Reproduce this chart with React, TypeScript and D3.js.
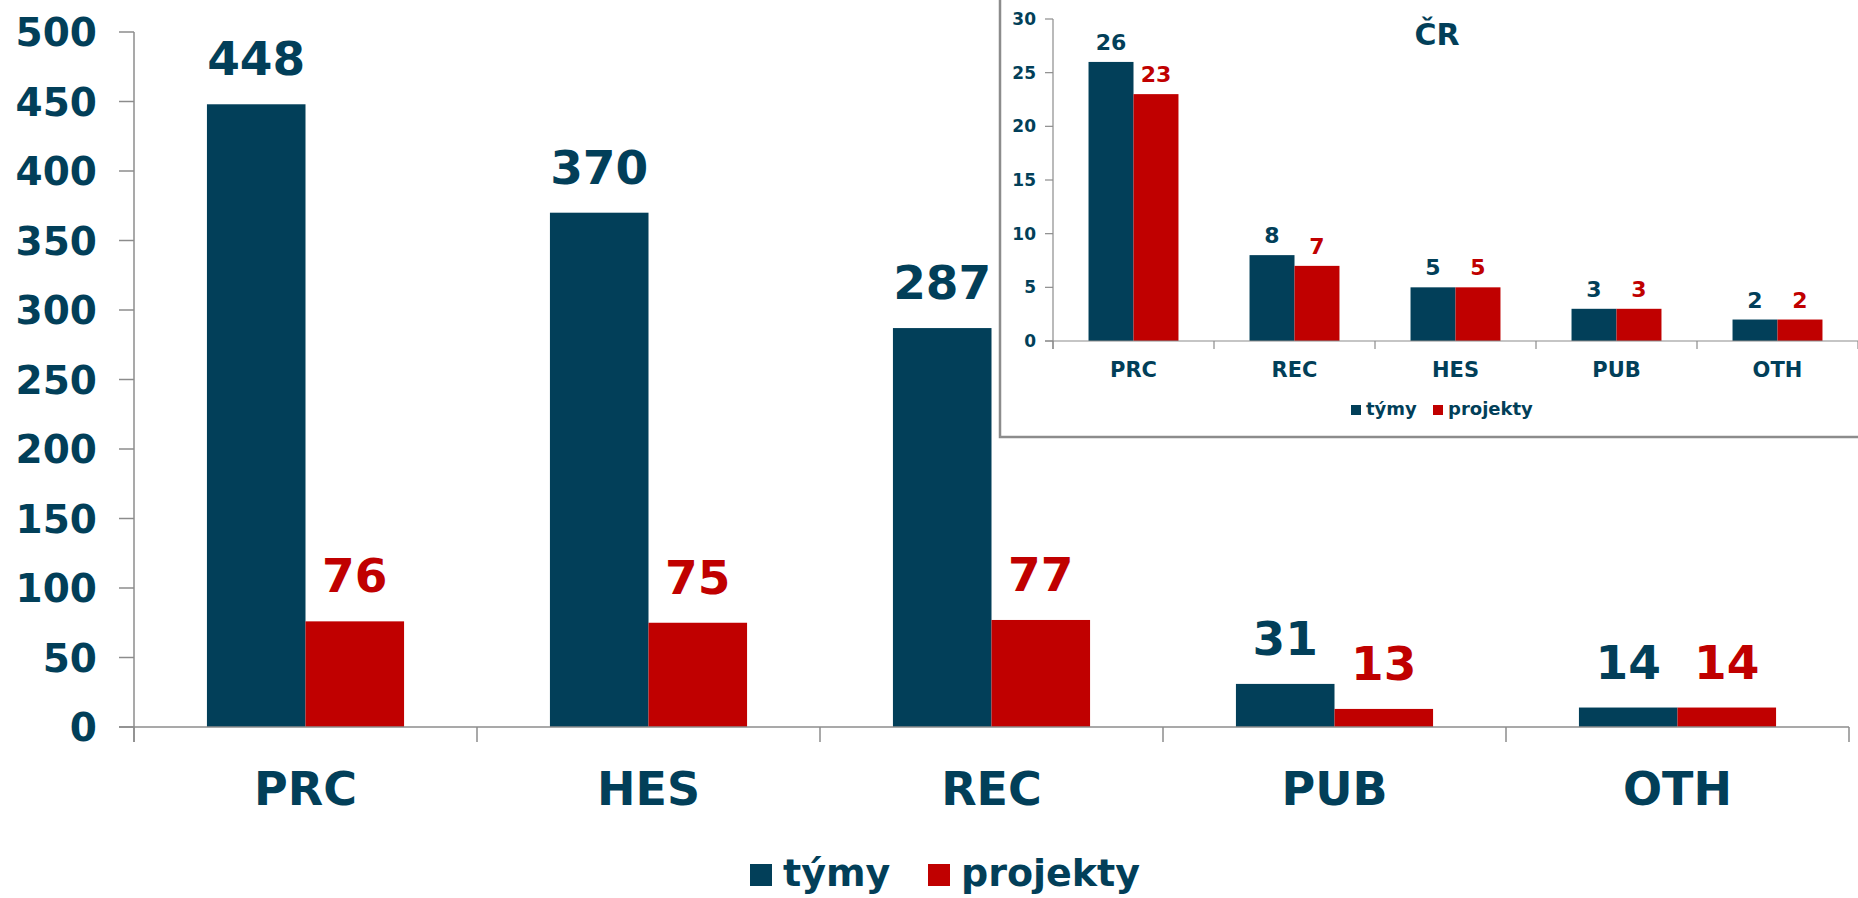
import React from "react";
import * as d3 from "d3";

const categories = ["PRC", "HES", "REC", "PUB", "OTH"];
const tymy = [448, 370, 287, 31, 14];
const projekty = [76, 75, 77, 13, 14];
const mainTicks = [0, 50, 100, 150, 200, 250, 300, 350, 400, 450, 500];

const insetCategories = ["PRC", "REC", "HES", "PUB", "OTH"];
const insetTymy = [26, 8, 5, 3, 2];
const insetProjekty = [23, 7, 5, 3, 2];
const insetTicks = [0, 5, 10, 15, 20, 25, 30];

const seriesNames = ["týmy", "projekty"];
const TEAL = "#023F59";
const RED = "#C00000";
const AXIS = "#8C8C8C";
const FONT = "'DejaVu Sans', Verdana, sans-serif";

type PanelProps = {
  cats: string[];
  a: number[];
  b: number[];
  ticks: number[];
  x0: number;
  x1: number;
  yTop: number;
  yBottom: number;
  max: number;
  outerPad: number;
  tickFont: number;
  tickLabelX: number;
  tickLen: number;
  catFont: number;
  catBaseline: number;
  valFont: number;
  valGap: number;
  axisWidth: number;
};

function Panel(p: PanelProps) {
  const x = d3.scaleBand<string>().domain(p.cats).range([p.x0, p.x1]).padding(0);
  const xs = d3
    .scaleBand<string>()
    .domain(seriesNames)
    .range([0, x.bandwidth()])
    .paddingInner(0)
    .paddingOuter(p.outerPad);
  const y = d3.scaleLinear().domain([0, p.max]).range([p.yBottom, p.yTop]);
  const boundaries = [...p.cats.map((c) => x(c) as number), p.x1];
  const series = [
    { name: seriesNames[0], vals: p.a, color: TEAL },
    { name: seriesNames[1], vals: p.b, color: RED },
  ];
  return (
    <g>
      {series.map((s) =>
        p.cats.map((c, i) => (
          <rect
            key={s.name + c}
            x={(x(c) as number) + (xs(s.name) as number)}
            y={y(s.vals[i])}
            width={xs.bandwidth()}
            height={y(0) - y(s.vals[i])}
            fill={s.color}
          />
        ))
      )}
      {/* y axis */}
      <line x1={p.x0} x2={p.x0} y1={y(p.max)} y2={y(0) + p.tickLen} stroke={AXIS} strokeWidth={p.axisWidth} />
      {p.ticks.map((t) => (
        <g key={t}>
          <line x1={p.x0 - p.tickLen} x2={p.x0} y1={y(t)} y2={y(t)} stroke={AXIS} strokeWidth={p.axisWidth} />
          <text
            x={p.tickLabelX}
            y={y(t)}
            dy="0.36em"
            textAnchor="end"
            fontFamily={FONT}
            fontWeight="bold"
            fontSize={p.tickFont}
            fill={TEAL}
          >
            {t}
          </text>
        </g>
      ))}
      {/* x axis */}
      <line x1={p.x0 - p.tickLen} x2={p.x1} y1={y(0)} y2={y(0)} stroke={AXIS} strokeWidth={p.axisWidth} />
      {boundaries.map((bx, i) => (
        <line key={i} x1={bx} x2={bx} y1={y(0)} y2={y(0) + p.tickLen} stroke={AXIS} strokeWidth={p.axisWidth} />
      ))}
      {p.cats.map((c) => (
        <text
          key={c}
          x={(x(c) as number) + x.bandwidth() / 2}
          y={p.catBaseline}
          textAnchor="middle"
          fontFamily={FONT}
          fontWeight="bold"
          fontSize={p.catFont}
          fill={TEAL}
        >
          {c}
        </text>
      ))}
      {series.map((s) =>
        p.cats.map((c, i) => (
          <text
            key={"l" + s.name + c}
            x={(x(c) as number) + (xs(s.name) as number) + xs.bandwidth() / 2}
            y={y(s.vals[i]) - p.valGap}
            textAnchor="middle"
            fontFamily={FONT}
            fontWeight="bold"
            fontSize={p.valFont}
            fill={s.color}
          >
            {s.vals[i]}
          </text>
        ))
      )}
    </g>
  );
}

function Legend({ x, y, size, font, gap, spacing }: { x: number; y: number; size: number; font: number; gap: number; spacing: number }) {
  const colors = [TEAL, RED];
  let cx = x;
  const items = seriesNames.map((n, i) => {
    const el = (
      <g key={n}>
        <rect x={cx} y={y - size} width={size} height={size} fill={colors[i]} />
        <text x={cx + size + gap} y={y} fontFamily={FONT} fontWeight="bold" fontSize={font} fill={TEAL}>
          {n}
        </text>
      </g>
    );
    cx += spacing;
    return el;
  });
  return <g>{items}</g>;
}

export default function App() {
  return (
    <svg
      width={1858}
      height={898}
      style={{ position: "absolute", left: 0, top: 0, background: "#fff" }}
    >
      <rect x={0} y={0} width={1858} height={898} fill="#fff" />
      <Panel
        cats={categories}
        a={tymy}
        b={projekty}
        ticks={mainTicks}
        x0={134}
        x1={1849}
        yTop={32}
        yBottom={727}
        max={500}
        outerPad={0.74}
        tickFont={39}
        tickLabelX={97}
        tickLen={15}
        catFont={46}
        catBaseline={805}
        valFont={47}
        valGap={29}
        axisWidth={1.5}
      />
      <Legend x={750} y={886} size={22} font={38} gap={11} spacing={178} />

      {/* inset */}
      <rect x={1000} y={-2} width={880} height={439} fill="#fff" stroke={AXIS} strokeWidth={2.5} />
      <Panel
        cats={insetCategories}
        a={insetTymy}
        b={insetProjekty}
        ticks={insetTicks}
        x0={1053}
        x1={1858}
        yTop={19}
        yBottom={341}
        max={30}
        outerPad={0.79}
        tickFont={17}
        tickLabelX={1036}
        tickLen={8}
        catFont={21}
        catBaseline={377}
        valFont={22}
        valGap={12}
        axisWidth={1.2}
      />
      <text x={1437} y={45} textAnchor="middle" fontFamily={FONT} fontWeight="bold" fontSize={30} fill={TEAL}>
        ČR
      </text>
      <Legend x={1351} y={415} size={10} font={18} gap={5} spacing={82} />
    </svg>
  );
}
